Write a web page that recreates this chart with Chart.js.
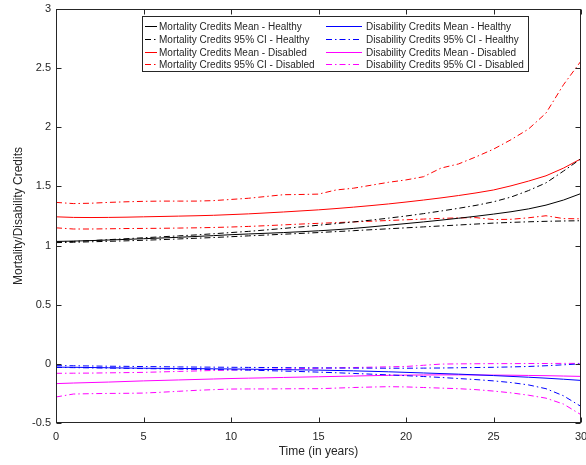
<!DOCTYPE html>
<html>
<head>
<meta charset="utf-8">
<script src="https://cdn.jsdelivr.net/npm/chart.js@4/dist/chart.umd.min.js"></script>
<style>
  html, body { margin: 0; padding: 0; background: #fff; }
  canvas { display: block; }
</style>
</head>
<body>
<canvas id="c" width="586" height="465"></canvas>
<script>
// Time axis (years)
const years = [0,1,2,3,4,5,6,7,8,9,10,11,12,13,14,15,16,17,18,19,20,21,22,23,24,25,26,27,28,29,30];
const xTicks = [0,5,10,15,20,25,30];
const yTicks = [-0.5,0,0.5,1,1.5,2,2.5,3];

// Mortality credits – healthy
const mortMeanHealthy = [1.035,1.038,1.042,1.047,1.052,1.058,1.064,1.070,1.077,1.084,1.092,1.098,1.104,1.110,1.117,1.125,1.134,1.145,1.158,1.172,1.186,1.200,1.215,1.231,1.248,1.266,1.286,1.310,1.342,1.385,1.440];
const mortCIHealthyUpper = [1.030,1.035,1.042,1.050,1.058,1.066,1.074,1.082,1.090,1.100,1.110,1.120,1.132,1.145,1.158,1.172,1.186,1.200,1.215,1.232,1.250,1.270,1.292,1.315,1.340,1.370,1.410,1.465,1.530,1.630,1.734];
const mortCIHealthyLower = [1.025,1.028,1.032,1.036,1.040,1.045,1.050,1.056,1.062,1.068,1.075,1.082,1.089,1.096,1.103,1.110,1.118,1.126,1.134,1.142,1.150,1.158,1.166,1.174,1.182,1.190,1.196,1.201,1.205,1.208,1.210];

// Mortality credits – disabled
const mortMeanDisabled = [1.243,1.238,1.237,1.238,1.240,1.243,1.246,1.249,1.252,1.256,1.262,1.268,1.276,1.284,1.293,1.302,1.313,1.325,1.338,1.352,1.368,1.385,1.403,1.423,1.445,1.470,1.505,1.545,1.590,1.655,1.734];
const mortCIDisabledUpper = [1.365,1.355,1.358,1.365,1.370,1.374,1.376,1.376,1.376,1.380,1.390,1.400,1.415,1.430,1.432,1.435,1.470,1.485,1.510,1.535,1.555,1.582,1.655,1.690,1.750,1.815,1.895,1.985,2.120,2.360,2.560];
const mortCIDisabledLower = [1.150,1.140,1.140,1.142,1.144,1.145,1.146,1.148,1.150,1.153,1.157,1.162,1.168,1.175,1.182,1.188,1.194,1.200,1.206,1.212,1.218,1.224,1.230,1.234,1.236,1.220,1.222,1.235,1.252,1.228,1.226];

// Disability credits – healthy
const disMeanHealthy = [-0.028,-0.029,-0.031,-0.033,-0.035,-0.037,-0.038,-0.039,-0.040,-0.042,-0.043,-0.045,-0.047,-0.049,-0.051,-0.053,-0.056,-0.059,-0.063,-0.067,-0.072,-0.077,-0.082,-0.087,-0.093,-0.099,-0.106,-0.113,-0.121,-0.130,-0.140];
const disCIHealthyUpper = [-0.015,-0.016,-0.018,-0.020,-0.021,-0.023,-0.024,-0.026,-0.027,-0.028,-0.029,-0.030,-0.031,-0.032,-0.033,-0.034,-0.035,-0.036,-0.036,-0.037,-0.037,-0.036,-0.035,-0.033,-0.031,-0.029,-0.026,-0.022,-0.016,-0.008,0.000];
const disCIHealthyLower = [-0.030,-0.032,-0.034,-0.036,-0.038,-0.040,-0.042,-0.044,-0.046,-0.048,-0.050,-0.053,-0.057,-0.061,-0.065,-0.070,-0.075,-0.081,-0.087,-0.093,-0.100,-0.107,-0.115,-0.124,-0.133,-0.144,-0.158,-0.178,-0.210,-0.270,-0.360];

// Disability credits – disabled
const disMeanDisabled = [-0.167,-0.162,-0.158,-0.154,-0.149,-0.144,-0.140,-0.136,-0.132,-0.128,-0.124,-0.121,-0.118,-0.115,-0.112,-0.109,-0.106,-0.103,-0.100,-0.097,-0.095,-0.094,-0.093,-0.093,-0.094,-0.095,-0.096,-0.098,-0.100,-0.103,-0.106];
const disCIDisabledUpper = [-0.080,-0.079,-0.078,-0.076,-0.074,-0.072,-0.068,-0.064,-0.060,-0.056,-0.052,-0.049,-0.046,-0.043,-0.040,-0.037,-0.034,-0.031,-0.028,-0.025,-0.022,-0.012,-0.002,0.000,0.001,0.002,0.002,0.003,0.003,0.004,0.004];
const disCIDisabledLower = [-0.280,-0.255,-0.252,-0.250,-0.249,-0.247,-0.240,-0.232,-0.224,-0.218,-0.213,-0.212,-0.212,-0.211,-0.210,-0.210,-0.205,-0.200,-0.196,-0.193,-0.195,-0.200,-0.205,-0.210,-0.218,-0.230,-0.245,-0.265,-0.290,-0.340,-0.430];

const AXIS = '#262626';
const FONT = "'Liberation Sans', Arial, Helvetica, sans-serif";
const DASHDOT = [6, 3, 1.5, 3];

function series(label, values, color, dashed, legendSlot) {
  return {
    label: label,
    data: years.map((t, i) => ({ x: t, y: values[i] })),
    borderColor: color,
    backgroundColor: color,
    borderWidth: 1,
    borderDash: dashed ? DASHDOT : [],
    pointRadius: 0,
    tension: 0,
    fill: false,
    legendSlot: legendSlot
  };
}

const datasets = [
  series('Mortality Credits Mean - Healthy', mortMeanHealthy, '#000000', false, 0),
  series('Mortality Credits 95% CI - Healthy', mortCIHealthyUpper, '#000000', true, 1),
  series('', mortCIHealthyLower, '#000000', true, -1),
  series('Mortality Credits Mean - Disabled', mortMeanDisabled, '#ff0000', false, 2),
  series('Mortality Credits 95% CI - Disabled', mortCIDisabledUpper, '#ff0000', true, 3),
  series('', mortCIDisabledLower, '#ff0000', true, -1),
  series('Disability Credits Mean - Healthy', disMeanHealthy, '#0000ff', false, 4),
  series('Disability Credits 95% CI - Healthy', disCIHealthyUpper, '#0000ff', true, 5),
  series('', disCIHealthyLower, '#0000ff', true, -1),
  series('Disability Credits Mean - Disabled', disMeanDisabled, '#ff00ff', false, 6),
  series('Disability Credits 95% CI - Disabled', disCIDisabledUpper, '#ff00ff', true, 7),
  series('', disCIDisabledLower, '#ff00ff', true, -1)
];

// Box around the axes with inward tick marks on all four sides
const boxAndTicks = {
  id: 'boxAndTicks',
  afterDatasetsDraw(chart) {
    const { ctx, chartArea: a, scales } = chart;
    ctx.save();
    ctx.strokeStyle = AXIS;
    ctx.lineWidth = 1;
    ctx.setLineDash([]);
    const L = Math.round(a.left) + 0.5, T = Math.round(a.top) + 0.5;
    const R = Math.round(a.right) - 0.5, B = Math.round(a.bottom) - 0.5;
    ctx.strokeRect(L, T, R - L, B - T);
    const len = 5;
    ctx.beginPath();
    xTicks.forEach(v => {
      const px = Math.round(scales.x.getPixelForValue(v)) + 0.5;
      ctx.moveTo(px, B); ctx.lineTo(px, B - len);
      ctx.moveTo(px, T); ctx.lineTo(px, T + len);
    });
    yTicks.forEach(v => {
      const py = Math.round(scales.y.getPixelForValue(v)) + 0.5;
      ctx.moveTo(L, py); ctx.lineTo(L + len, py);
      ctx.moveTo(R, py); ctx.lineTo(R - len, py);
    });
    ctx.stroke();
    ctx.restore();
  }
};

// Two-column legend box inside the plot
const boxLegend = {
  id: 'boxLegend',
  afterDraw(chart) {
    const { ctx, chartArea: a } = chart;
    const bx = Math.round(a.left + 86), by = Math.round(a.top + 7), bw = 386, bh = 55;
    const rowY = [10, 23, 36, 48];
    const cols = [
      { lx0: 3, lx1: 15, tx: 17 },
      { lx0: 184, lx1: 220, tx: 224 }
    ];
    ctx.save();
    ctx.fillStyle = '#ffffff';
    ctx.fillRect(bx, by, bw, bh);
    ctx.strokeStyle = AXIS;
    ctx.lineWidth = 1;
    ctx.setLineDash([]);
    ctx.strokeRect(bx + 0.5, by + 0.5, bw, bh);
    ctx.font = '10px ' + FONT;
    ctx.textBaseline = 'middle';
    ctx.textAlign = 'left';
    const entries = chart.data.datasets.filter(ds => ds.legendSlot >= 0);
    entries.forEach(ds => {
      const col = cols[Math.floor(ds.legendSlot / 4)];
      const y = by + rowY[ds.legendSlot % 4] + 0.5;
      ctx.save();
      ctx.strokeStyle = ds.borderColor;
      ctx.lineWidth = 1;
      ctx.setLineDash(ds.borderDash.slice());
      ctx.beginPath();
      ctx.moveTo(bx + col.lx0, y);
      ctx.lineTo(bx + col.lx1, y);
      ctx.stroke();
      ctx.restore();
    });
    ctx.fillStyle = AXIS;
    entries.forEach(ds => {
      const col = cols[Math.floor(ds.legendSlot / 4)];
      const y = by + rowY[ds.legendSlot % 4] + 1;
      ctx.fillText(ds.label, bx + col.tx, y);
    });
    ctx.restore();
  }
};

new Chart(document.getElementById('c'), {
  type: 'line',
  data: { datasets: datasets },
  plugins: [boxAndTicks, boxLegend],
  options: {
    responsive: false,
    devicePixelRatio: 1,
    animation: false,
    layout: { padding: { top: 9, right: 5, left: 0, bottom: 0 } },
    plugins: { legend: { display: false }, tooltip: { enabled: false } },
    scales: {
      x: {
        type: 'linear',
        min: 0, max: 30,
        afterBuildTicks: s => { s.ticks = xTicks.map(v => ({ value: v })); },
        afterFit: s => { s.height = 42; s.paddingLeft = 0; s.paddingRight = 0; },
        grid: { display: false, drawTicks: false },
        border: { display: false },
        ticks: { color: AXIS, font: { family: FONT, size: 11 }, padding: 7, maxRotation: 0,
                 callback: v => String(v) },
        title: { display: true, text: 'Time (in years)', color: AXIS,
                 font: { family: FONT, size: 12 }, padding: { top: 0, bottom: 6 } }
      },
      y: {
        type: 'linear',
        min: -0.5, max: 3,
        afterBuildTicks: s => { s.ticks = yTicks.map(v => ({ value: v })); },
        afterFit: s => { s.width = 56; s.paddingTop = 0; s.paddingBottom = 0; },
        grid: { display: false, drawTicks: false },
        border: { display: false },
        ticks: { color: AXIS, font: { family: FONT, size: 11 }, padding: 5,
                 callback: v => String(v) },
        title: { display: true, text: 'Mortality/Disability Credits', color: AXIS,
                 font: { family: FONT, size: 12 }, padding: { top: 11, bottom: 0 } }
      }
    }
  }
});
</script>
</body>
</html>
